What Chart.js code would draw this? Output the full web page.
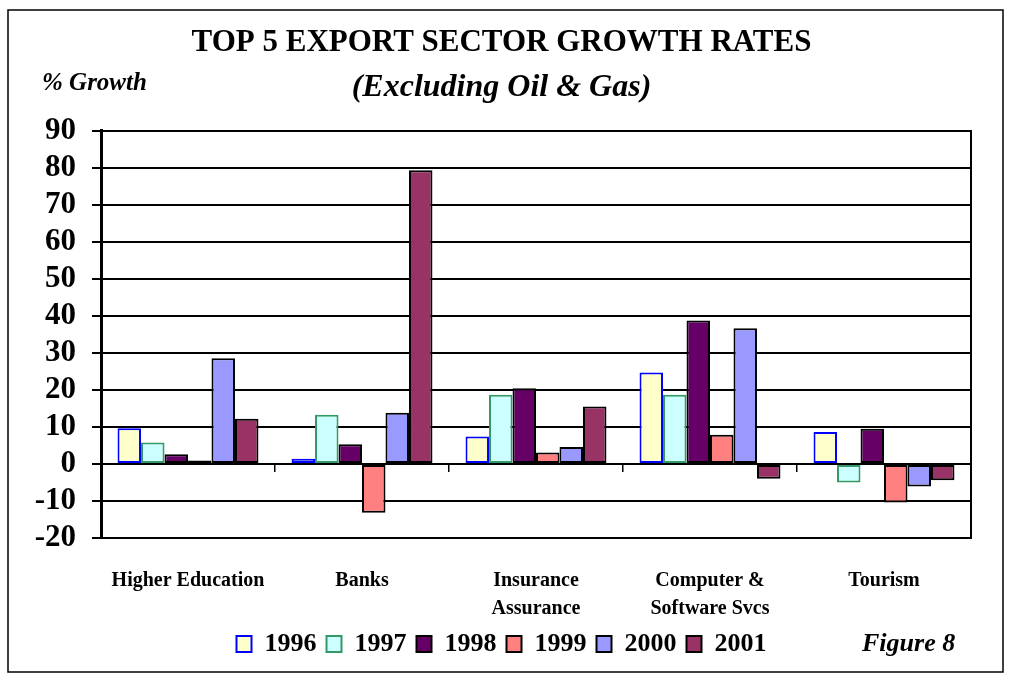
<!DOCTYPE html>
<html>
<head>
<meta charset="utf-8">
<title>Top 5 Export Sector Growth Rates</title>
<script src="https://cdn.jsdelivr.net/npm/chart.js@4.4.1/dist/chart.umd.min.js"></script>
<style>
    body { margin: 0; background: #ffffff; }
</style>
</head>
<body>
<canvas id="growthChart" width="1009" height="679"></canvas>
<script>
// Sectors along the x axis
const sectors = ["Higher Education", "Banks", ["Insurance", "Assurance"], ["Computer &", "Software Svcs"], "Tourism"];

// % growth per year, one value per sector
const growth1996 = [9.6, 1.4, 7.4, 24.7, 8.6];
const growth1997 = [5.8, 13.3, 18.7, 18.7, -5.0];
const growth1998 = [2.6, 5.3, 20.4, 38.7, 9.5];
const growth1999 = [0.9, -13.2, 3.1, 7.9, -10.4];
const growth2000 = [28.5, 13.8, 4.6, 36.6, -6.1];
const growth2001 = [12.2, 79.3, 15.5, -4.0, -4.4];

const years = ["1996", "1997", "1998", "1999", "2000", "2001"];
const yearValues = [growth1996, growth1997, growth1998, growth1999, growth2000, growth2001];

// y axis range and step
const yMin = -20;
const yMax = 90;
const yStep = 10;

const fillColors = ["#FFFFCC", "#CCFFFF", "#660066", "#FF8080", "#9999FF", "#993366"];
const edgeColors = ["#0000FF", "#339966", "#000000", "#000000", "#000000", "#000000"];

const serif = "'Liberation Serif', 'Times New Roman', serif";

// Outer frame round the whole figure
const framePlugin = {
    id: "frame",
    beforeDraw(chart) {
        const ctx = chart.ctx;
        ctx.save();
        ctx.fillStyle = "#ffffff";
        ctx.fillRect(0, 0, chart.width, chart.height);
        ctx.strokeStyle = "#000000";
        ctx.lineWidth = 1.5;
        ctx.strokeRect(8, 10, 995, 662);
        ctx.restore();
    }
};

// Loose texts: axis caption and figure number
const notesPlugin = {
    id: "notes",
    afterDraw(chart) {
        const ctx = chart.ctx;
        ctx.save();
        ctx.fillStyle = "#000000";
        ctx.textBaseline = "middle";
        ctx.textAlign = "left";
        ctx.font = "italic bold 25px " + serif;
        ctx.fillText("% Growth", 42, 84);
        ctx.font = "italic bold 26px " + serif;
        ctx.fillText("Figure 8", 862, 644);
        ctx.restore();
    }
};

const datasets = years.map((year, i) => ({
    label: year,
    data: yearValues[i],
    backgroundColor: fillColors[i],
    borderColor: edgeColors[i],
    borderWidth: 2,
    borderSkipped: false,
    categoryPercentage: 0.81,
    barPercentage: 1.0
}));

new Chart(document.getElementById("growthChart"), {
    type: "bar",
    data: {
        labels: sectors,
        datasets: datasets
    },
    plugins: [framePlugin, notesPlugin],
    options: {
        responsive: false,
        animation: false,
        layout: {
            padding: { top: 10, left: 8, right: 14, bottom: 12 }
        },
        plugins: {
            title: {
                display: true,
                text: "TOP 5 EXPORT SECTOR GROWTH RATES",
                color: "#000000",
                font: { family: serif, size: 31, weight: "bold" },
                padding: { top: 14, bottom: 5 }
            },
            subtitle: {
                display: true,
                text: "(Excluding Oil & Gas)",
                color: "#000000",
                font: { family: serif, size: 32, weight: "bold", style: "italic" },
                padding: { top: 2, bottom: 24 }
            },
            legend: {
                position: "bottom",
                labels: {
                    color: "#000000",
                    font: { family: serif, size: 26, weight: "bold" },
                    boxWidth: 15,
                    boxHeight: 16,
                    padding: 10
                }
            },
            tooltip: { enabled: false }
        },
        scales: {
            x: {
                grid: { display: false },
                border: { display: false },
                ticks: {
                    color: "#000000",
                    font: { family: serif, size: 20, weight: "bold", lineHeight: 1.4 },
                    padding: 21,
                    maxRotation: 0,
                    autoSkip: false
                },
                afterFit(scale) { scale.height = 83; }
            },
            // second category axis sitting on the zero line, only for its tick marks
            xZero: {
                type: "category",
                axis: "x",
                position: { y: 0 },
                offset: true,
                grid: {
                    drawOnChartArea: false,
                    drawTicks: true,
                    tickLength: 7,
                    color: "#000000",
                    lineWidth: 1.5
                },
                border: { display: true, color: "#000000", width: 2 },
                ticks: { display: false }
            },
            y: {
                min: yMin,
                max: yMax,
                grid: {
                    color: "#000000",
                    lineWidth: 2,
                    tickLength: 9
                },
                border: { display: true, color: "#000000", width: 3 },
                ticks: {
                    stepSize: yStep,
                    autoSkip: false,
                    color: "#000000",
                    padding: 16,
                    font: { family: serif, size: 31, weight: "bold", lineHeight: 1 }
                },
                afterFit(scale) { scale.width = 93; }
            },
            // right hand edge of the plot area
            yRight: {
                position: "right",
                min: yMin,
                max: yMax,
                grid: { drawOnChartArea: false, drawTicks: false },
                border: { display: true, color: "#000000", width: 2 },
                ticks: { display: false },
                afterFit(scale) { scale.width = 24; }
            }
        }
    }
});
</script>
</body>
</html>
